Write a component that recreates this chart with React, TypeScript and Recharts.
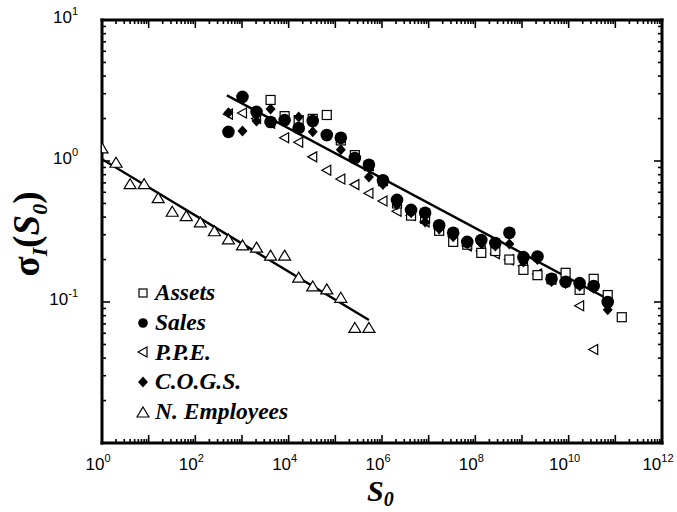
import React from 'react'
import { ScatterChart, Scatter, XAxis, YAxis, Legend, ReferenceLine } from 'recharts'

// firm size bins (S0) and width sigma_1(S0)
const empSize = [1, 2, 4, 8, 16, 32, 64, 128, 256, 512, 1024, 2048, 4096, 8192, 16384, 32768, 65536, 131072, 262144, 524288]
const empSigma = [1.24, 0.98, 0.69, 0.69, 0.55, 0.44, 0.41, 0.37, 0.32, 0.28, 0.254, 0.245, 0.215, 0.215, 0.15, 0.13, 0.124, 0.108, 0.066, 0.066]

const mainSize = [
  512, 1024, 2048, 4096, 8192, 16384, 32768, 65536, 131072, 262144,
  524288, 1048576, 2097152, 4194304, 8388608, 16777216, 33554432, 67108864, 134217728, 268435456,
  536870912, 1073741824, 2147483648, 4294967296, 8589934592, 17179869184, 34359738368, 68719476736, 137438953472,
]
const assets = [null, null, null, 2.71, 2.08, 1.95, 1.99, 2.12, 1.4, 1.1, 0.92, 0.72, 0.5, 0.41, 0.39, 0.32, 0.267, 0.255, 0.223, 0.23, 0.2, 0.169, 0.155, 0.145, 0.161, 0.122, 0.146, 0.112, 0.078]
const sales = [1.61, 2.85, 2.23, 1.89, 1.95, 1.71, 1.92, 1.53, 1.46, 1.05, 0.94, 0.73, 0.53, 0.45, 0.43, 0.35, 0.31, 0.267, 0.275, 0.262, 0.31, 0.208, 0.21, 0.146, 0.139, 0.136, 0.13, 0.1, null]
const ppe = [2.15, 2.19, 2.0, 1.85, 1.46, 1.36, 1.07, 0.86, 0.745, 0.68, 0.59, 0.52, 0.44, 0.41, 0.37, 0.33, 0.29, 0.25, 0.23, 0.22, 0.199, 0.18, 0.158, 0.145, 0.14, 0.094, 0.046, null, null]
const cogs = [2.2, 1.63, 1.92, 2.34, 1.95, 2.05, 1.61, 1.5, 1.2, 1.02, 0.77, 0.68, 0.49, 0.43, 0.37, 0.33, 0.29, 0.26, 0.26, 0.25, 0.258, 0.192, 0.2, 0.14, 0.135, 0.13, 0.125, 0.088, null]

// fitted power-law lines (end points)
const fitMainSize = [475, 6.9e10]
const fitMainSigma = [2.92, 0.105]
const fitEmpSize = [1, 5.25e5]
const fitEmpSigma = [1.03, 0.0745]

const legendNames = ['Assets', 'Sales', 'P.P.E.', 'C.O.G.S.', 'N. Employees']

const xDecades = [1, 1e1, 1e2, 1e3, 1e4, 1e5, 1e6, 1e7, 1e8, 1e9, 1e10, 1e11, 1e12]
const yDecades = [0.01, 0.1, 1, 10]
const X_MIN = 1
const X_MAX = 1e12
const Y_MIN = 0.01
const Y_MAX = 10

const pairs = (xs: number[], ys: (number | null)[]) =>
  xs.map((s, i) => ({ s, sigma: ys[i] })).filter((d) => d.sigma != null)

const withMinors = (decades: number[]) => {
  const out: number[] = []
  decades.forEach((d, i) => {
    out.push(d)
    if (i < decades.length - 1) for (let m = 2; m <= 9; m++) out.push(d * m)
  })
  return out
}
const xTicks = withMinors(xDecades)
const yTicks = withMinors(yDecades)

const isMajor = (v: number) => Math.abs(Math.log10(v) - Math.round(Math.log10(v))) < 1e-6
const expOf = (v: number) => Math.round(Math.log10(v))

const SANS = '"Liberation Sans", Arial, sans-serif'
const SERIF = '"Liberation Serif", "Times New Roman", serif'

const Square = ({ cx, cy, side }: { cx: number; cy: number; side: number }) => (
  <rect x={cx - side / 2} y={cy - side / 2} width={side} height={side} fill="#fff" stroke="#000" strokeWidth={1.2} />
)
const Dot = ({ cx, cy, rad }: { cx: number; cy: number; rad: number }) => <circle cx={cx} cy={cy} r={rad} fill="#000" />
const LeftTri = ({ cx, cy }: { cx: number; cy: number }) => (
  <polygon points={`${cx - 5},${cy} ${cx + 4},${cy - 5} ${cx + 4},${cy + 5}`} fill="#fff" stroke="#000" strokeWidth={1.2} />
)
const Diamond = ({ cx, cy }: { cx: number; cy: number }) => (
  <polygon points={`${cx},${cy - 5.5} ${cx + 5},${cy} ${cx},${cy + 5.5} ${cx - 5},${cy}`} fill="#000" />
)
const UpTri = ({ cx, cy }: { cx: number; cy: number }) => (
  <polygon points={`${cx},${cy - 5} ${cx + 6},${cy + 5} ${cx - 6},${cy + 5}`} fill="#fff" stroke="#000" strokeWidth={1.2} />
)

const legendMarker = (i: number) => {
  if (i === 0) return <Square cx={7} cy={7} side={8} />
  if (i === 1) return <Dot cx={7} cy={7} rad={4.8} />
  if (i === 2) return <LeftTri cx={7} cy={7} />
  if (i === 3) return <Diamond cx={7} cy={7} />
  return <UpTri cx={7} cy={7} />
}

const BottomTick = ({ x, y, payload }: any) => {
  const v = payload.value
  const major = isMajor(v)
  const e = expOf(v)
  return (
    <g>
      <line x1={x} x2={x} y1={y} y2={y - (major ? 8 : 4)} stroke="#000" strokeWidth={1.6} />
      {major && e % 2 === 0 && (
        <text x={x - 4} y={y + 27} textAnchor="middle" fontFamily={SANS} fontSize={17} fill="#000">
          10<tspan dy={-8} fontSize={11}>{e}</tspan>
        </text>
      )}
    </g>
  )
}
const LeftTick = ({ x, y, payload }: any) => {
  const v = payload.value
  const major = isMajor(v)
  const e = expOf(v)
  return (
    <g>
      <line x1={x} x2={x + (major ? 8 : 4)} y1={y} y2={y} stroke="#000" strokeWidth={1.6} />
      {major && e > -2 && (
        <text x={x - 24} y={y + 3} textAnchor="end" fontFamily={SANS} fontSize={17} fill="#000">
          10<tspan dy={-8} fontSize={11}>{e}</tspan>
        </text>
      )}
    </g>
  )
}

// mirrored ticks on the top and right frame edges
const topTickShape = (v: number) => (p: any) => {
  const top = Math.min(p.y1, p.y2)
  return <line x1={p.x1} x2={p.x1} y1={top} y2={top + (isMajor(v) ? 8 : 4)} stroke="#000" strokeWidth={1.6} />
}
const rightTickShape = (v: number) => (p: any) => {
  const right = Math.max(p.x1, p.x2)
  return <line x1={right} x2={right - (isMajor(v) ? 8 : 4)} y1={p.y1} y2={p.y1} stroke="#000" strokeWidth={1.6} />
}

const renderLegend = () => (
  <div style={{ fontFamily: SERIF, fontWeight: 'bold', fontStyle: 'italic', fontSize: 23.5, lineHeight: '29.75px' }}>
    {legendNames.map((name, i) => (
      <div key={name} style={{ display: 'flex', alignItems: 'center', height: 29.75, whiteSpace: 'nowrap' }}>
        <svg width={14} height={14} style={{ marginRight: 5 }}>
          {legendMarker(i)}
        </svg>
        <span>{name}</span>
      </div>
    ))}
  </div>
)

const axisLine = { stroke: '#000', strokeWidth: 3, strokeLinecap: 'square' as const }

export default function App() {
  return (
    <div style={{ position: 'absolute', left: 0, top: 0, width: 677, height: 512, background: '#fff' }}>
      <ScatterChart width={677} height={512} margin={{ top: 20, right: 15, bottom: 19, left: 2 }}>
        <XAxis
          dataKey="s"
          type="number"
          scale="log"
          domain={[X_MIN, X_MAX]}
          allowDataOverflow
          ticks={xTicks}
          interval={0}
          height={50}
          tickSize={0}
          tickMargin={0}
          tickLine={false}
          axisLine={axisLine}
          tick={(p: any) => <BottomTick {...p} />}
          label={{
            content: () => (
              <text x={367} y={501} fontFamily={SERIF} fontWeight="bold" fontStyle="italic" fontSize={30} fill="#000">
                S<tspan dy={5} fontSize={20}>0</tspan>
              </text>
            ),
          }}
        />
        <YAxis
          dataKey="sigma"
          type="number"
          scale="log"
          domain={[Y_MIN, Y_MAX]}
          allowDataOverflow
          ticks={yTicks}
          interval={0}
          width={100}
          tickSize={0}
          tickMargin={0}
          tickLine={false}
          axisLine={axisLine}
          tick={(p: any) => <LeftTick {...p} />}
          label={{
            content: () => (
              <text
                x={0}
                y={0}
                transform="translate(39,234) rotate(-90)"
                textAnchor="middle"
                fontFamily={SERIF}
                fontWeight="bold"
                fontSize={37}
                fill="#000"
              >
                σ<tspan dy={8} fontSize={22} fontStyle="italic">I</tspan>
                <tspan dy={-8}>(</tspan>
                <tspan fontStyle="italic">S</tspan>
                <tspan dy={8} fontSize={22} fontStyle="italic">0</tspan>
                <tspan dy={-8}>)</tspan>
              </text>
            ),
          }}
        />
        <ReferenceLine y={Y_MAX} stroke="#000" strokeWidth={3} strokeLinecap="square" ifOverflow="visible" />
        <ReferenceLine x={X_MAX} stroke="#000" strokeWidth={3} strokeLinecap="square" ifOverflow="visible" />
        {xTicks.map((v) => (
          <ReferenceLine key={`tx${v}`} x={v} ifOverflow="visible" shape={topTickShape(v)} />
        ))}
        {yTicks.map((v) => (
          <ReferenceLine key={`ty${v}`} y={v} ifOverflow="visible" shape={rightTickShape(v)} />
        ))}
        <Legend
          layout="horizontal"
          align="center"
          verticalAlign="middle"
          content={renderLegend}
          wrapperStyle={{ position: 'absolute', left: 136, top: 278, width: 'auto', height: 'auto' }}
        />
        <Scatter name="fitEmp" data={pairs(fitEmpSize, fitEmpSigma)} line={{ stroke: '#000', strokeWidth: 2.4 }} shape={() => <g />} isAnimationActive={false} legendType="none" />
        <Scatter name="fitMain" data={pairs(fitMainSize, fitMainSigma)} line={{ stroke: '#000', strokeWidth: 2.4 }} shape={() => <g />} isAnimationActive={false} legendType="none" />
        <Scatter name="N. Employees" data={pairs(empSize, empSigma)} shape={(p: any) => <UpTri cx={p.cx} cy={p.cy} />} isAnimationActive={false} />
        <Scatter name="P.P.E." data={pairs(mainSize, ppe)} shape={(p: any) => <LeftTri cx={p.cx} cy={p.cy} />} isAnimationActive={false} />
        <Scatter name="Assets" data={pairs(mainSize, assets)} shape={(p: any) => <Square cx={p.cx} cy={p.cy} side={9} />} isAnimationActive={false} />
        <Scatter name="Sales" data={pairs(mainSize, sales)} shape={(p: any) => <Dot cx={p.cx} cy={p.cy} rad={6.3} />} isAnimationActive={false} />
        <Scatter name="C.O.G.S." data={pairs(mainSize, cogs)} shape={(p: any) => <Diamond cx={p.cx} cy={p.cy} />} isAnimationActive={false} />
      </ScatterChart>
    </div>
  )
}
